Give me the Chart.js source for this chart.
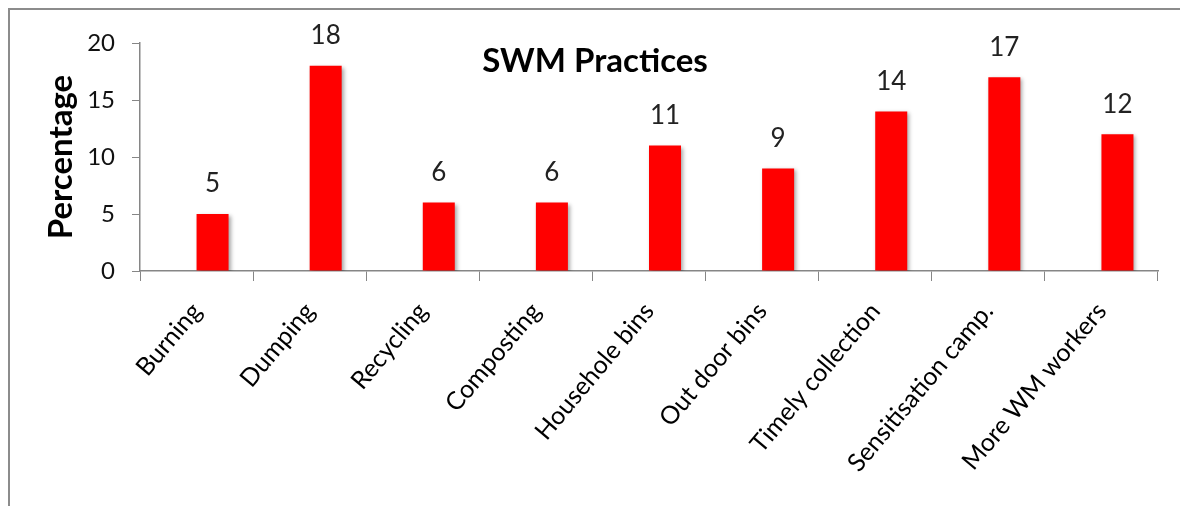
<!DOCTYPE html>
<html lang="en">
<head>
  <meta charset="UTF-8">
  <title>SWM Practices</title>
  <script src="https://cdn.jsdelivr.net/npm/chart.js"></script>
  <style>
    html, body {
      margin: 0;
      padding: 0;
      background: #fff;
    }
    #wrap {
      width: 1180px;
      height: 506px;
    }
  </style>
</head>
<body>
  <div id="wrap">
    <canvas id="swmChart" width="1180" height="506"></canvas>
  </div>

  <script>
    const categories = ['Burning', 'Dumping', 'Recycling', 'Composting', 'Househole bins', 'Out door bins', 'Timely collection', 'Sensitisation camp.', 'More WM workers'];
    const percentages = [5, 18, 6, 6, 11, 9, 14, 17, 12];
    const emptySeries = [null, null, null, null, null, null, null, null, null];
    const yTicks = [0, 5, 10, 15, 20];
    const chartTitle = 'SWM Practices';
    const yTitle = 'Percentage';

    const FONT = 'Lato, "Open Sans", sans-serif';
    const AXIS_GRAY = '#868686';

    // white background + grey frame like the Excel chart box
    const framePlugin = {
      id: 'frame',
      beforeDraw(chart) {
        const ctx = chart.ctx;
        ctx.save();
        ctx.fillStyle = '#fff';
        ctx.fillRect(0, 0, chart.width, chart.height);
        ctx.strokeStyle = '#8c8c8c';
        ctx.lineWidth = 2;
        ctx.strokeRect(9, 9, chart.width + 20, chart.height + 20);
        ctx.restore();
      }
    };

    // soft drop shadow on the bars
    const shadowPlugin = {
      id: 'barShadow',
      beforeDatasetDraw(chart) {
        const ctx = chart.ctx;
        ctx.save();
        ctx.shadowColor = 'rgba(0,0,0,0.35)';
        ctx.shadowBlur = 4;
        ctx.shadowOffsetX = 2;
        ctx.shadowOffsetY = 2;
      },
      afterDatasetDraw(chart) {
        chart.ctx.restore();
      }
    };

    // value above each bar
    const valueLabelPlugin = {
      id: 'valueLabels',
      afterDatasetsDraw(chart) {
        const ctx = chart.ctx;
        const meta = chart.getDatasetMeta(1);
        ctx.save();
        ctx.font = '26px ' + FONT;
        ctx.fillStyle = '#222';
        ctx.textAlign = 'center';
        ctx.textBaseline = 'middle';
        meta.data.forEach((bar, i) => {
          ctx.fillText(percentages[i], bar.x, bar.y - 30);
        });
        ctx.restore();
      }
    };

    // title sits inside the plot area
    const titlePlugin = {
      id: 'innerTitle',
      afterDraw(chart) {
        const ctx = chart.ctx;
        ctx.save();
        ctx.font = 'bold 33px ' + FONT;
        ctx.fillStyle = '#000';
        ctx.textAlign = 'center';
        ctx.textBaseline = 'middle';
        ctx.fillText(chartTitle, 595, 61);
        ctx.restore();
      }
    };

    new Chart(document.getElementById('swmChart'), {
      type: 'bar',
      data: {
        labels: categories,
        datasets: [
          { data: emptySeries, backgroundColor: '#ff0000' },
          { data: percentages, backgroundColor: '#ff0000', borderWidth: 0 }
        ]
      },
      options: {
        responsive: false,
        animation: false,
        categoryPercentage: 0.566,
        barPercentage: 1.0,
        layout: {
          padding: { top: 43, right: 22, left: 0, bottom: 0 }
        },
        plugins: {
          legend: { display: false },
          tooltip: { enabled: false }
        },
        scales: {
          x: {
            grid: {
              display: true,
              drawOnChartArea: false,
              drawTicks: true,
              tickLength: 10,
              color: AXIS_GRAY,
              offset: true
            },
            border: { color: AXIS_GRAY, width: 1.5 },
            ticks: {
              color: '#000',
              font: { family: FONT, size: 25 },
              minRotation: 50,
              maxRotation: 50,
              autoSkip: false,
              padding: 16
            },
            afterFit(scale) {
              scale.height = 235;
            }
          },
          y: {
            min: 0,
            max: 20,
            afterBuildTicks(scale) {
              scale.ticks = yTicks.map(v => ({ value: v }));
            },
            grid: {
              drawOnChartArea: false,
              drawTicks: true,
              tickLength: 8,
              color: AXIS_GRAY
            },
            border: { color: AXIS_GRAY, width: 1.5 },
            ticks: {
              color: '#111',
              font: { family: FONT, size: 24 },
              padding: 17
            },
            title: {
              display: true,
              text: yTitle,
              color: '#000',
              font: { family: FONT, size: 33, weight: 'bold' },
              padding: { top: 42, bottom: 0 }
            },
            afterFit(scale) {
              scale.width = 140;
            }
          }
        }
      },
      plugins: [framePlugin, shadowPlugin, valueLabelPlugin, titlePlugin]
    });
  </script>
</body>
</html>
